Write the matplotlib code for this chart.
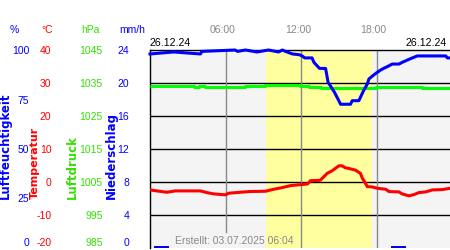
import matplotlib.pyplot as plt
import numpy as np

plt.rcParams['font.family'] = ['Liberation Sans', 'DejaVu Sans']
plt.rcParams['axes.unicode_minus'] = False

# Stunden des Tages (26.12.24) und Messwerte
hum_h = [0, 1.87, 4.0, 4.12, 6.75, 6.95, 7.57, 8.5, 9.4, 10.2, 10.5, 10.75, 11.3, 11.85,
         12.07, 12.28, 12.86, 13.0, 13.26, 13.45, 13.93, 14.13, 14.4, 14.64, 14.8, 14.98,
         15.12, 15.91, 16.04, 16.57, 16.76, 16.97, 17.24, 17.37, 17.58, 17.77, 18.03, 18.3,
         18.56, 18.83, 19.22, 19.75, 20.02, 20.41, 20.81, 21.21, 23.46, 23.6, 23.8]
hum = [98, 99, 98, 99.3, 100, 99.3, 100, 99, 100, 99, 100, 99.3, 98, 97.6,
       97, 96, 96, 93.8, 92, 90.7, 90.7, 83.7, 81, 78.6, 76.6, 74.4,
       72.6, 72.6, 74.4, 74.4, 77, 79.8, 82.8, 85.4, 86.5, 87.5, 88.7, 89.9,
       90.8, 91.6, 92.9, 92.9, 93.8, 94.9, 96, 97, 97, 96, 96]

pres_h = [0, 3.46, 3.9, 4.38, 7.57, 9.16, 11.9, 12.6, 13.53, 17.9, 21.6, 23.8]
pres = [1034.0, 1033.7, 1034.0, 1033.7, 1034.0, 1034.4, 1034.2, 1033.9, 1033.5, 1033.9, 1033.5, 1033.5]

temp_h = [0, 0.54, 1.34, 2.0, 4.0, 4.5, 5.05, 5.97, 6.24, 7.83, 9.16, 9.82, 10.48, 11.14,
          11.94, 12.5, 12.73, 13.5, 13.66, 14.05, 14.45, 14.98, 15.25, 15.5, 15.78, 16.3,
          16.7, 16.84, 17.05, 17.24, 17.63, 18.03, 18.7, 18.96, 19.75, 20.0, 20.55, 20.95,
          21.34, 21.88, 22.4, 23.2, 23.8]
temp = [-2.4, -2.7, -3.1, -2.7, -2.7, -3.2, -3.6, -3.9, -3.4, -2.9, -2.8, -2.2, -1.7, -1.1,
        -0.8, -0.6, 0.4, 0.5, 1.1, 2.6, 3.4, 4.9, 4.9, 4.3, 4.1, 3.6,
        2.6, 1.2, -0.1, -1.4, -1.5, -1.9, -2.2, -2.9, -3.0, -3.6, -4.2, -3.8,
        -3.2, -3.0, -2.4, -2.3, -1.9]

rain_h = [0.9, 19.7]
rain = [0.3, 0.3]

sun_start, sun_end = 9.2, 17.65

W, H = 450, 250
fig = plt.figure(figsize=(W / 100, H / 100), dpi=100)


def fx(x):
    return x / W


def fy(y):
    return 1 - y / H


left, right, top, bottom = 150, 450, 50, 248
rect = [fx(left), fy(bottom), (right - left) / W, (bottom - top) / H]

BLUE = '#0000ff'
RED = '#ff0000'
GREEN_T = '#33e000'
GREEN = '#00ff00'

# Hintergrund + Raster
ax = fig.add_axes(rect)
ax.set_facecolor('#f4f4f4')
ax.set_xlim(0, 23.8)
ax.set_ylim(0, 100)
ax.axvspan(sun_start, sun_end, color='#ffffa0', lw=0, zorder=0)
for yy in np.linspace(0, 100, 7)[1:-1]:
    ax.axhline(yy, color='black', lw=1.0, zorder=1)
ax.axvline(6, color='#888888', lw=1.0, ymin=0.08, zorder=1)
ax.axvline(12, color='#888888', lw=1.0, zorder=1)
ax.axvline(18, color='#888888', lw=1.0, zorder=1)
ax.set_xticks([])
ax.set_yticks([])
for s in ax.spines.values():
    s.set_color('black')
    s.set_linewidth(1.0)
ax.spines['right'].set_visible(False)
ax.spines['bottom'].set_visible(False)


def overlay(ylim, ticks, color, pad):
    a = fig.add_axes(rect, frameon=False)
    a.set_xlim(0, 23.8)
    a.set_ylim(*ylim)
    a.set_xticks([])
    a.set_yticks(ticks)
    a.tick_params(axis='y', length=0, pad=pad, labelsize=7.5, labelcolor=color)
    a.yaxis.get_major_ticks()[0].label1.set_va('bottom')
    return a


ax_r = overlay((0, 24), [0, 4, 8, 12, 16, 20, 24], BLUE, 15)
ax_p = overlay((985, 1045), [985, 995, 1005, 1015, 1025, 1035, 1045], GREEN_T, 34)
ax_t = overlay((-20, 40), [-20, -10, 0, 10, 20, 30, 40], RED, 71)
ax_h = overlay((0, 100), [0, 25, 50, 75, 100], BLUE, 87)

ax_r.bar(rain_h, rain, width=1.15, color=BLUE, zorder=3)
ax_p.plot(pres_h, pres, color=GREEN, lw=2.2, drawstyle='steps-post', solid_capstyle='butt')
ax_t.plot(temp_h, temp, color=RED, lw=2.2)
ax_h.plot(hum_h, hum, color=BLUE, lw=2.2, clip_on=False)

# Kopfzeile
for x, txt, c in [(14, '%', BLUE), (47, '°C', RED), (90, 'hPa', GREEN_T), (132, 'mm/h', BLUE)]:
    fig.text(fx(x), fy(30), txt, color=c, fontsize=7.5, ha='center', va='center')

# Achsentitel
for x, txt, c, fs in [(5, 'Luftfeuchtigkeit', BLUE, 8.5), (35, 'Temperatur', RED, 8),
                      (72, 'Luftdruck', GREEN_T, 8.5), (111, 'Niederschlag', BLUE, 8.5)]:
    fig.text(fx(x), fy(199), txt, color=c, fontsize=fs, rotation=90, ha='center',
             va='bottom', family='DejaVu Sans', fontweight='bold')

for h, lab in [(6, '06:00'), (12, '12:00'), (18, '18:00')]:
    fig.text(fx(left + h * 302 / 24 - 3), fy(30), lab, color='#888888', fontsize=7.5,
             ha='center', va='center')

fig.text(fx(150), fy(43), '26.12.24', color='black', fontsize=7.7, ha='left', va='center')
fig.text(fx(447), fy(43), '26.12.24', color='black', fontsize=7.7, ha='right', va='center')
fig.text(fx(175), fy(241), 'Erstellt: 03.07.2025 06:04', color='#888888', fontsize=7.5,
         ha='left', va='center')

fig.savefig('out.png', dpi=100)
